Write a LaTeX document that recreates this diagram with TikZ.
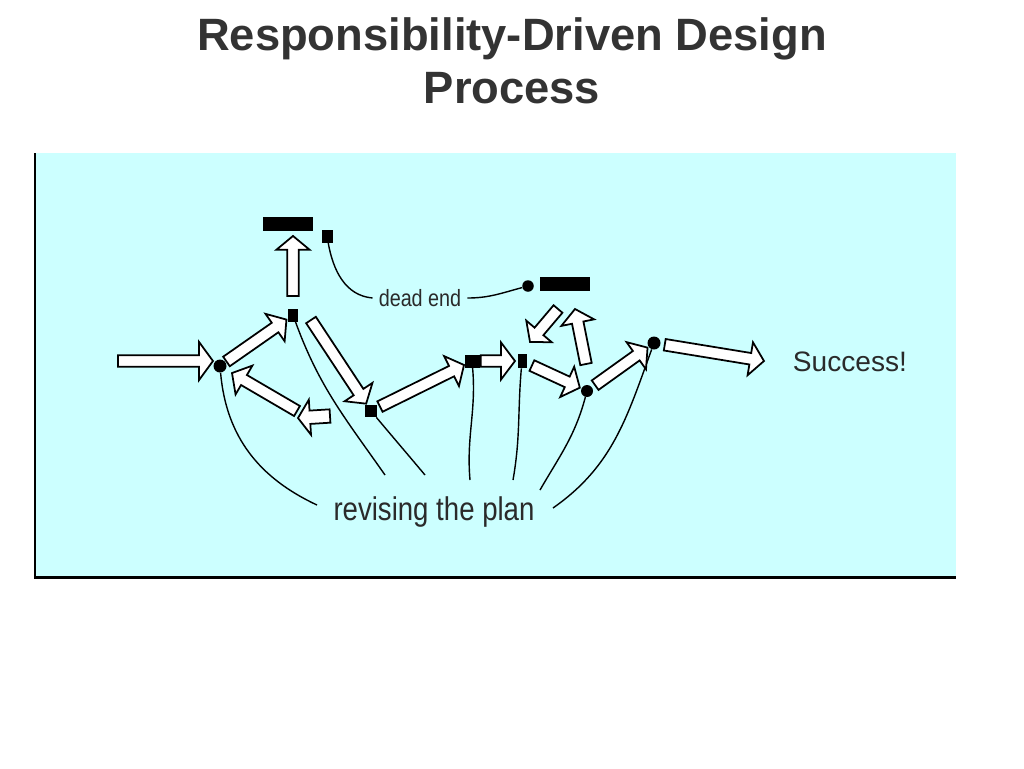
\documentclass[tikz,border=0pt]{standalone}
\usepackage{fontspec}
\setmainfont{Liberation Sans}
\newfontfamily\labelfont[FakeStretch=0.84]{Liberation Sans}
\usepackage{tikz}
\usetikzlibrary{calc}
\definecolor{PanelCyan}{HTML}{CCFFFF}
\definecolor{TitleGray}{HTML}{333333}
\definecolor{LabelInk}{HTML}{2A2A2A}

\tikzset{
  fat from/.store in=\fatfrom, fat to/.store in=\fatto,
  fat shaft/.store in=\fatw, fat head/.store in=\fath, fat tip/.store in=\fathl,
  fat from=0pt, fat to=0pt, fat shaft=3.3pt, fat head=9.5pt, fat tip=7.9pt,
  fat/.style={draw=black, fill=white, line width=1pt, line join=miter,
    to path={let \p1=(\tikztostart), \p2=(\tikztotarget),
      \n1={atan2(\y2-\y1,\x2-\x1)}, \n2={veclen(\x2-\x1,\y2-\y1)-\fatto},
      \n3={\n2-\fathl} in
      ($(\p1)+(\n1:\fatfrom)+(\n1+90:\fatw)$)
      -- ($(\p1)+(\n1:\n3)+(\n1+90:\fatw)$)
      -- ($(\p1)+(\n1:\n3)+(\n1+90:\fath)$)
      -- ($(\p1)+(\n1:\n2)$)
      -- ($(\p1)+(\n1:\n3)+(\n1-90:\fath)$)
      -- ($(\p1)+(\n1:\n3)+(\n1-90:\fatw)$)
      -- ($(\p1)+(\n1:\fatfrom)+(\n1-90:\fatw)$) -- cycle}},
  dot/.style={fill=black, inner sep=0pt},
  bar/.style={fill=black, inner sep=0pt, minimum width=1cm, minimum height=0.28cm},
  thread/.style={line width=0.8pt}
}

\begin{document}
\begin{tikzpicture}[x=0.02cm, y=-0.02cm, every node/.style={text=LabelInk}]
  \useasboundingbox (0,0) rectangle (1024,768);
  \node[font=\fontsize{25.8}{30}\selectfont\bfseries, text=TitleGray, align=center]
    (title) at (512,61) {Responsibility-Driven Design\\Process};
  \fill[PanelCyan] (35,153) rectangle (956,577);
  \draw[line width=1.7pt] (35,153) -- (35,577) -- (956,577);

  \node[dot, circle, minimum size=0.26cm] (A) at (220,366) {};
  \node[dot, minimum width=0.2cm, minimum height=0.26cm] (B) at (293,315) {};
  \node[dot, minimum width=0.22cm, minimum height=0.26cm] (C) at (327,236) {};
  \node[dot, minimum size=0.24cm] (D) at (371,411) {};
  \node[dot, minimum width=0.3cm, minimum height=0.26cm] (E) at (472,361) {};
  \node[dot, minimum width=0.18cm, minimum height=0.28cm] (F) at (522,361) {};
  \node[dot, circle, minimum size=0.23cm] (G) at (528,286) {};
  \node[dot, circle, minimum size=0.24cm] (H) at (587,391) {};
  \node[dot, circle, minimum size=0.26cm] (I) at (654,343) {};
  \node[bar] (bar1) at (288,224) {};
  \node[bar] (bar2) at (565,284) {};

  \node[font={\labelfont\fontsize{13.4}{15}\selectfont}] (dead) at (420,298) {dead end};
  \node[font={\labelfont\fontsize{18.7}{21}\selectfont}] (plan) at (434,512) {revising the plan};
  \node[font=\fontsize{16}{18}\selectfont] (succ) at (850,362) {Success!};

  \coordinate (start) at (118,361);
  \coordinate (w1) at (297,411);
  \coordinate (w2) at (330,416);
  \coordinate (w3) at (298,418);
  \coordinate (b1) at (311,320);
  \coordinate (d1) at (558,309);
  \coordinate (d2) at (530,342);
  \coordinate (u1) at (586,364);
  \coordinate (u2) at (575,309);
  \coordinate (goal) at (764,361);

  \draw[thread] (C) to[out=-80, in=175] (dead.west);
  \draw[thread] (dead.east) to[out=0, in=195] (G);
  \foreach \n/\o/\i/\x/\y in {A/-85/155/317/505, B/-70/125/385/475,
      D/-50/130/425/475, E/-85/95/470/480, F/-95/80/513/480,
      H/-105/60/540/490, I/-110/35/553/508}{
    \coordinate (r\n) at (\x,\y);
    \draw[thread] (\n) to[out=\o, in=\i] (r\n);
  }

  \draw[fat, fat head=10.8pt, fat to=4pt] (start) to (start -| A);
  \draw[fat, fat from=4.5pt, fat to=4.5pt] (A) to (B);
  \draw[fat, fat from=10.8pt, fat to=6.8pt] (B) to (B |- bar1);
  \draw[fat, fat to=7.9pt] (w1) to (A);
  \draw[fat, fat shaft=3.8pt, fat head=10pt, fat tip=6.8pt] (w2) to (w3);
  \draw[fat, fat to=5pt] (b1) to (D);
  \draw[fat, fat from=5.7pt, fat to=5pt] (D) to (E);
  \draw[fat, fat head=10.5pt, fat from=5pt, fat to=4pt] (E) to (F);
  \draw[fat] (d1) to (d2);
  \draw[fat] (u1) to (u2);
  \draw[fat, fat from=6.2pt, fat to=4.5pt] (F) to (H);
  \draw[fat, fat from=5.7pt, fat to=4.5pt] (H) to (I);
  \draw[fat, fat from=6.2pt] (I) to (goal);
\end{tikzpicture}
\end{document}
